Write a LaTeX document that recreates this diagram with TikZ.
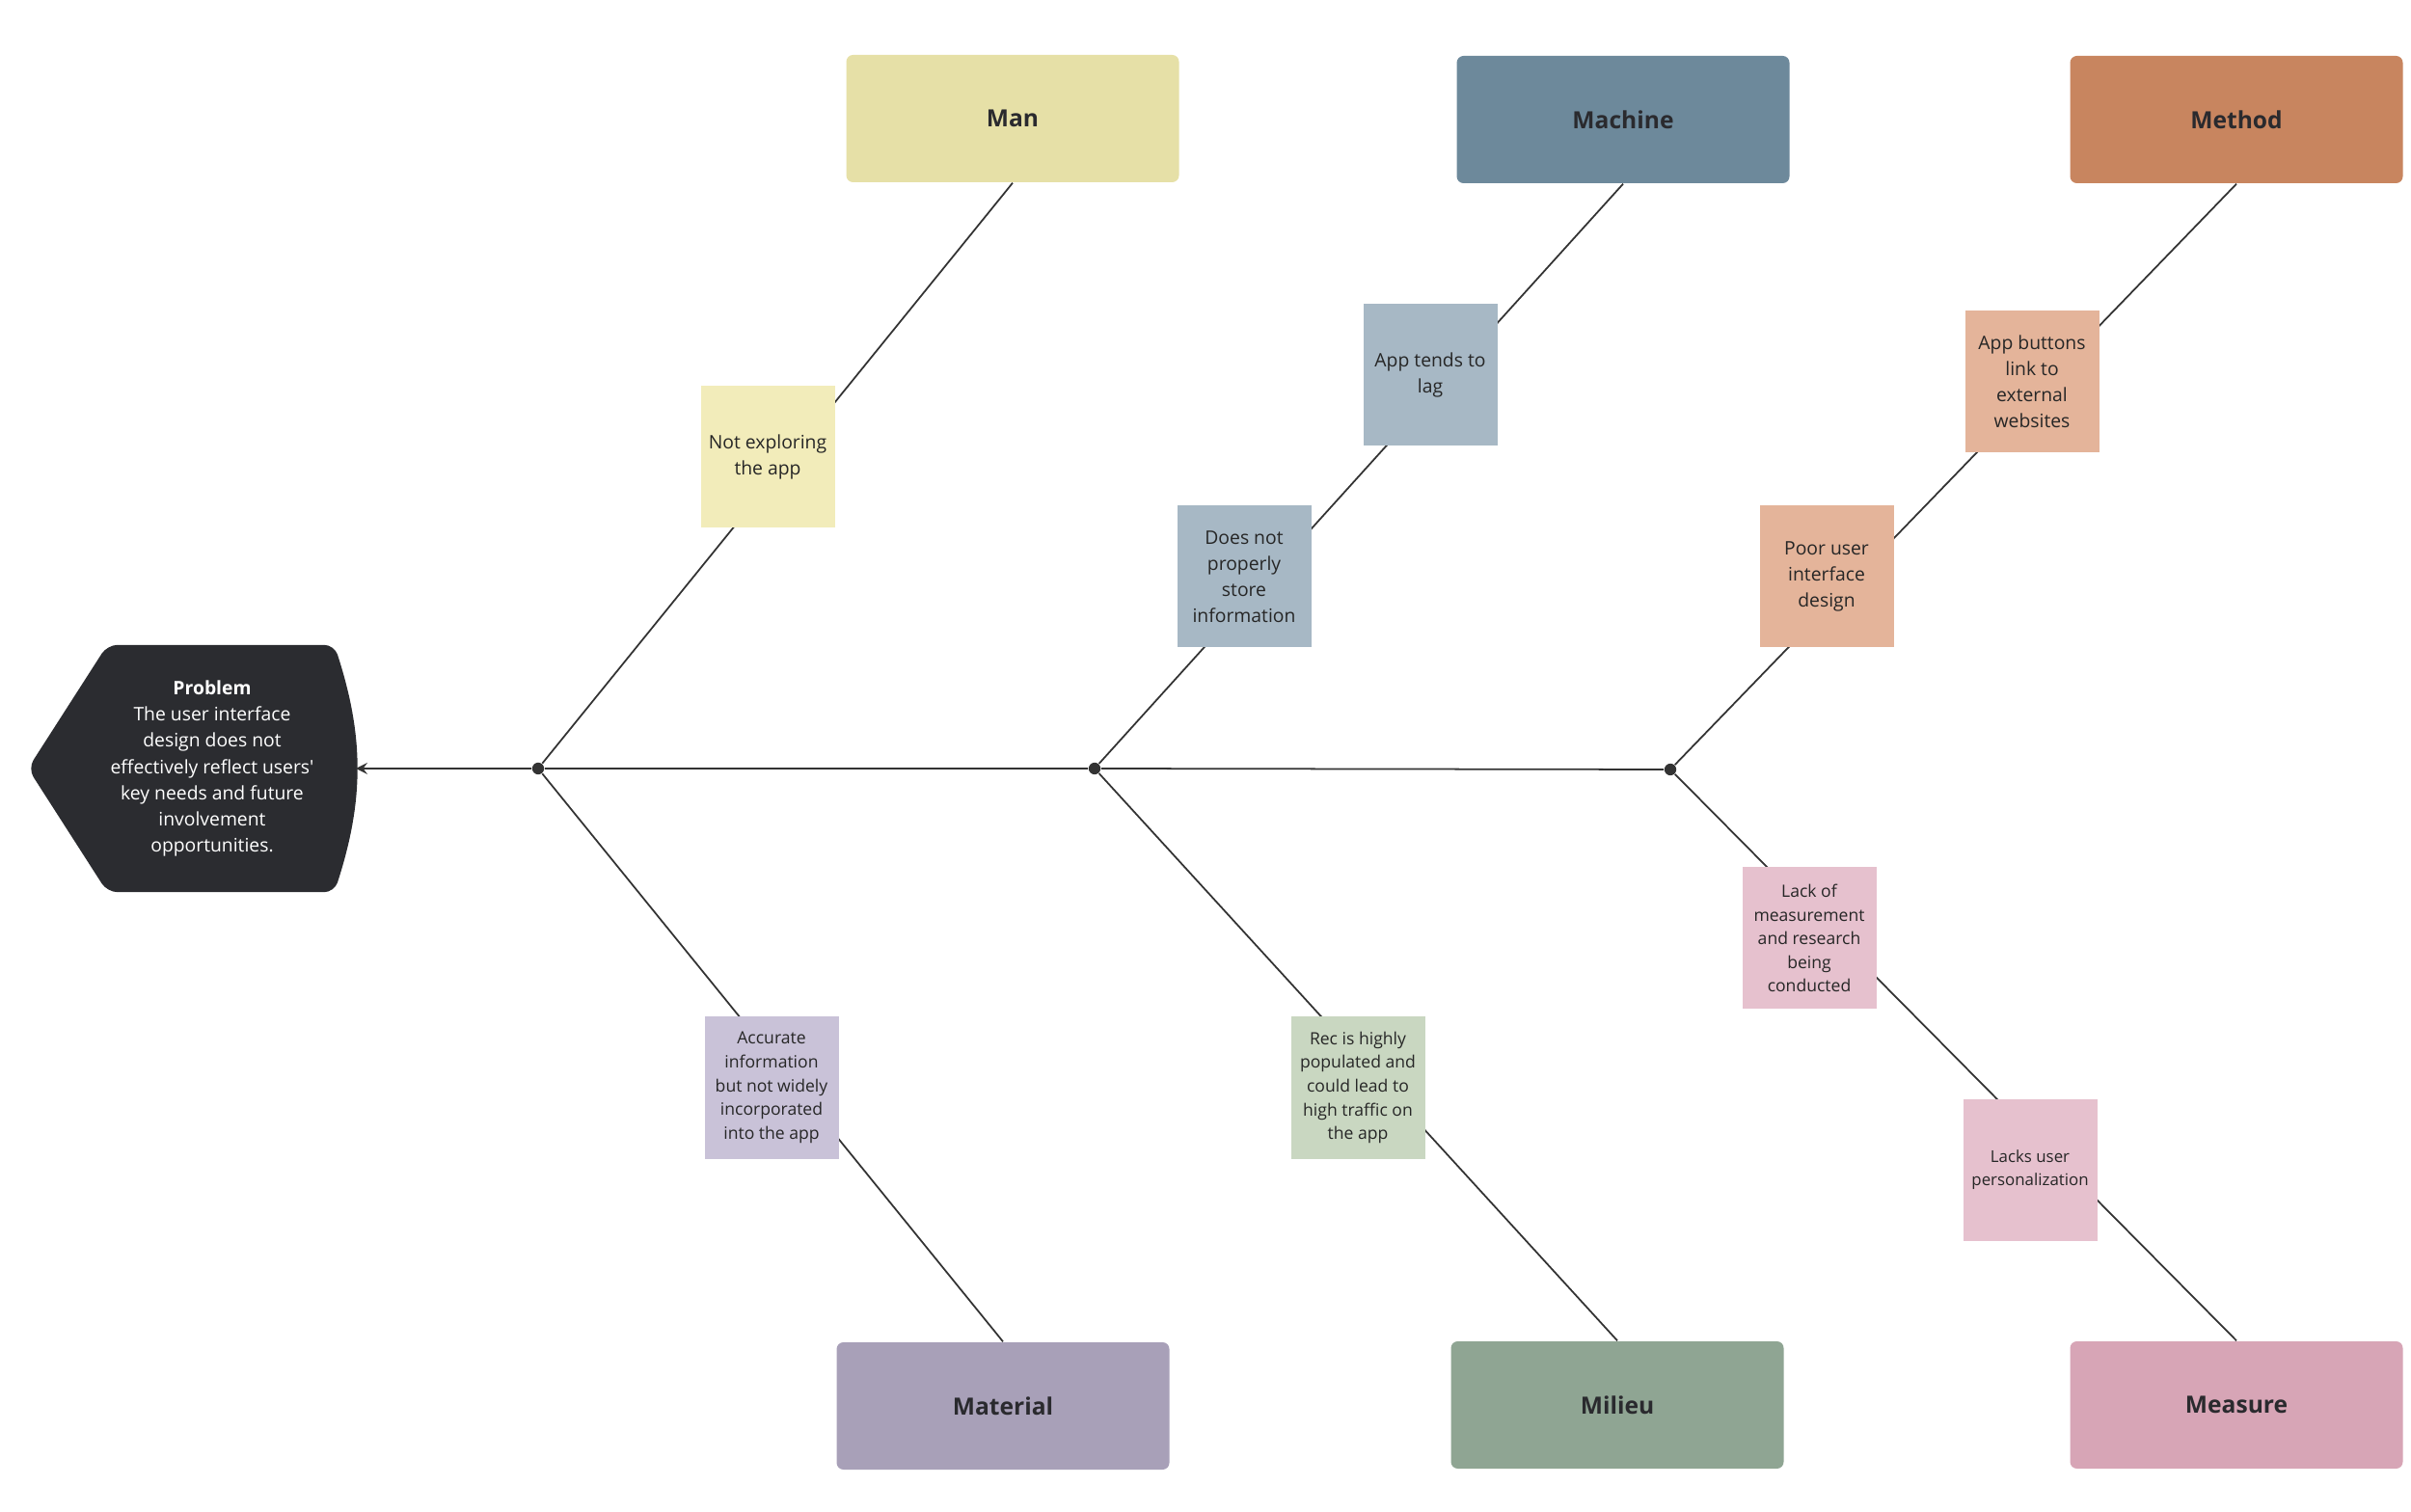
\documentclass[tikz,border=0pt]{standalone}
\usepackage{fontspec}
\setmainfont{Open Sans}
\usepackage{tikz}
\usetikzlibrary{arrows,backgrounds}
\usetikzlibrary{calc,positioning}

\definecolor{probdark}{HTML}{2B2C30}
\definecolor{linegray}{HTML}{333333}
\definecolor{labeldark}{HTML}{2A2A2E}
\definecolor{manc}{HTML}{E6E0A7}
\definecolor{mannote}{HTML}{F2ECBA}
\definecolor{machc}{HTML}{6D899B}
\definecolor{machnote}{HTML}{A7B8C5}
\definecolor{methc}{HTML}{C8855F}
\definecolor{methnote}{HTML}{E4B49A}
\definecolor{matc}{HTML}{A8A0B8}
\definecolor{matnote}{HTML}{C9C2D8}
\definecolor{milc}{HTML}{8FA593}
\definecolor{milnote}{HTML}{C9D7C1}
\definecolor{meac}{HTML}{D7A5B6}
\definecolor{meanote}{HTML}{E6C1CE}

\begin{document}
\begin{tikzpicture}[>=stealth,
  bone/.style={draw=linegray, line width=0.5pt},
  cat/.style={rectangle, rounded corners=2pt, minimum width=3.45cm,
    minimum height=1.32cm, font=\fontsize{7}{8}\selectfont\bfseries, text=labeldark},
  note/.style={rectangle, minimum width=1.39cm, minimum height=1.47cm,
    align=center, inner sep=0pt, font=\fontsize{5.5}{7.7}\selectfont, text=black!85},
  smallnote/.style={note, font=\fontsize{5}{7}\selectfont}]
    \tikzstyle{joint}=[circle, fill=linegray, inner sep=0pt, minimum size=3.5pt]

    \useasboundingbox (0,0) rectangle (25,15.67);

    % head of the fish
    \node[minimum width=2.16cm, minimum height=2.55cm, inner sep=0pt, align=center, text=white,
      font=\fontsize{5.5}{7.7}\selectfont] (prob) at (2.20,7.70)
      {\textbf{Problem}\\The user interface\\design does not\\effectively reflect users\textquotesingle\\key needs and future\\involvement\\opportunities.};
    \coordinate (probnose) at (0.29,7.70);
    \coordinate (probtip) at (3.69,7.70);

    % joints on the spine
    \node[joint] (j1) at (5.58,7.70) {};
    \node[joint] (j2) at (11.35,7.70) {};
    \node[joint] (j3) at (17.32,7.69) {};

    % categories
    \node[cat, fill=manc]  (man)      at (10.50,14.44) {Man};
    \node[cat, fill=machc] (machine)  at (16.83,14.43) {Machine};
    \node[cat, fill=methc] (method)   at (23.19,14.43) {Method};
    \node[cat, fill=matc]  (material) at (10.40,1.09)  {Material};
    \node[cat, fill=milc]  (milieu)   at (16.77,1.10)  {Milieu};
    \node[cat, fill=meac]  (measure)  at (23.19,1.10)  {Measure};

    % causes
    \node[note, fill=mannote]  (explore)  at (7.96,10.93)  {Not exploring\\the app};
    \node[note, fill=machnote] (lag)      at (14.83,11.78) {App tends to\\lag};
    \node[note, fill=machnote] (store)    at (12.90,9.69)  {Does not\\properly\\store\\information};
    \node[note, fill=methnote] (links)    at (21.07,11.71) {App buttons\\link to\\external\\websites};
    \node[note, fill=methnote] (poorui)   at (18.94,9.69)  {Poor user\\interface\\design};
    \node[smallnote, fill=matnote] (accurate) at (8.00,4.39)  {Accurate\\information\\but not widely\\incorporated\\into the app};
    \node[smallnote, fill=milnote] (traffic)  at (14.08,4.39) {Rec is highly\\populated and\\could lead to\\high traffic on\\the app};
    \node[smallnote, fill=meanote] (research) at (18.76,5.94) {Lack of\\measurement\\and research\\being\\conducted};
    \node[smallnote, fill=meanote, font=\fontsize{4.8}{6.9}\selectfont] (personal) at (21.05,3.54) {Lacks user\\personalization};

    \begin{scope}[on background layer]
      \fill[probdark, rounded corners=3pt] (prob.north west) -- ($(prob.north east)+(0.18,0)$)
        to[out=-72,in=72] ($(prob.south east)+(0.18,0)$) -- (prob.south west) -- (probnose) -- cycle;
      \draw[bone] (j1) -- (man.south);
      \draw[bone] (j2) -- (machine.south);
      \draw[bone] (j3) -- (method.south);
      \draw[bone] (j1) -- (material.north);
      \draw[bone] (j2) -- (milieu.north);
      \draw[bone] (j3) -- (measure.north);
      \draw[bone,->] (j3) -- (j2) -- (j1) -- (probtip);
    \end{scope}

\end{tikzpicture}
\end{document}
